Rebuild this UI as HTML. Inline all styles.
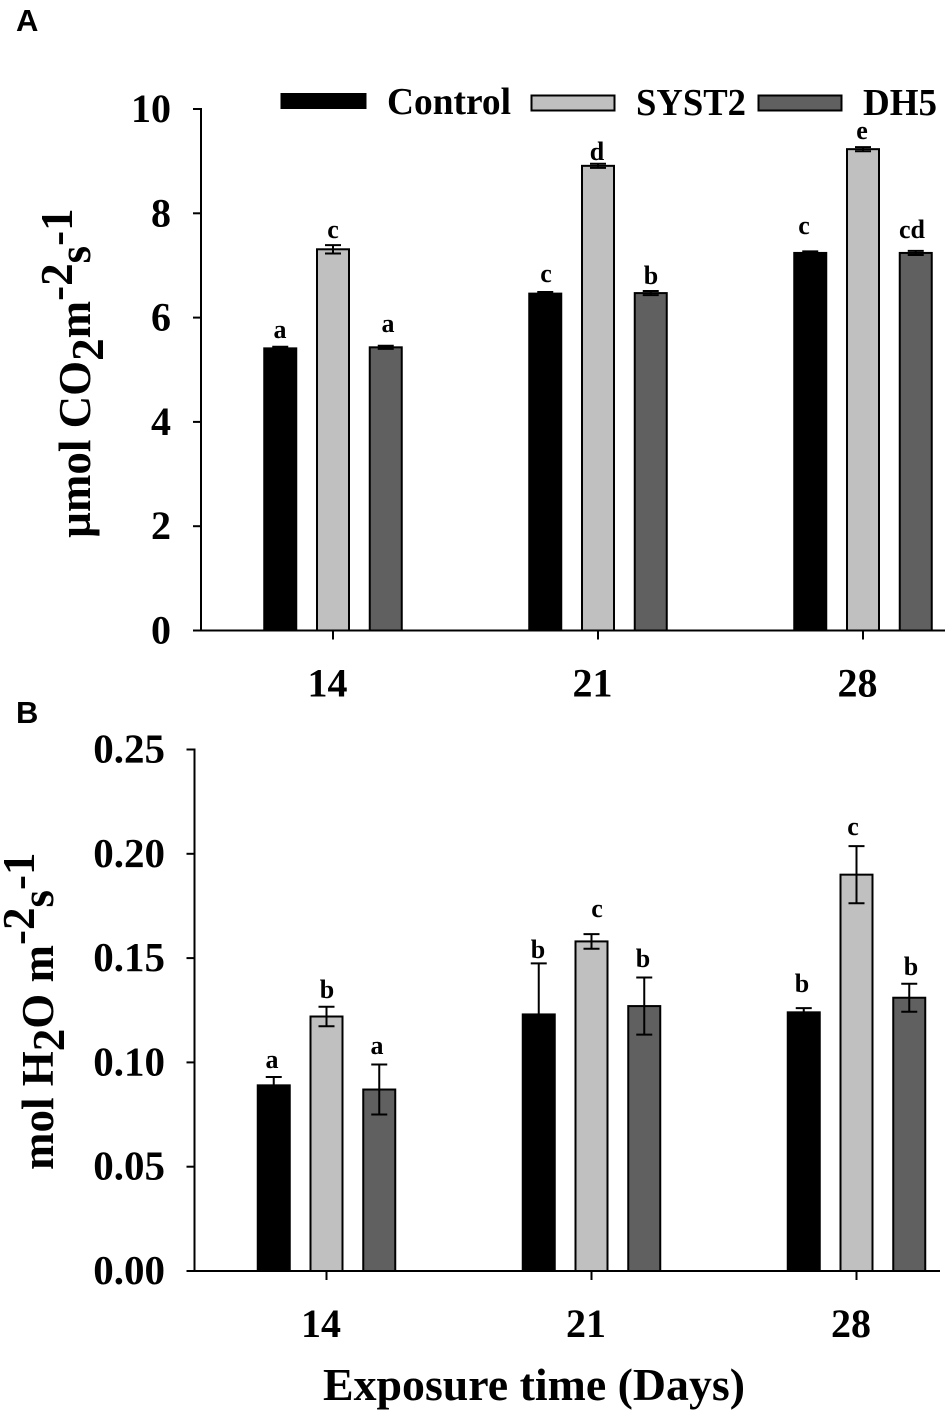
<!DOCTYPE html>
<html>
<head>
<meta charset="utf-8">
<title>Photosynthesis and stomatal conductance bar charts</title>
<style>
html,body{margin:0;padding:0;background:#fff;}
svg{display:block;}
text{font-family:"Liberation Serif",serif;font-weight:bold;fill:#000;}
.panel{font-family:"Liberation Sans",sans-serif;font-size:31px;}
.tick-a{font-size:40px;}
.tick-b{font-size:41px;}
.xt{font-size:40px;}
.leg{font-size:38px;}
.ltr{font-size:26px;text-anchor:middle;}
.ttl{font-size:45px;}
</style>
</head>
<body>
<svg id="fig" xmlns="http://www.w3.org/2000/svg" width="950" height="1413" viewBox="0 0 950 1413">
  <rect x="0" y="0" width="950" height="1413" fill="#fff"/>
  <text class="panel" x="16" y="31">A</text>
  <text class="panel" x="16" y="723">B</text>

  <g id="chartA"></g>
  <g id="chartB"></g>

  <g>
    <rect x="281" y="93.500" width="85" height="15" fill="#000" stroke="#000" stroke-width="1"/>
    <text class="leg" x="387" y="114" textLength="124" lengthAdjust="spacingAndGlyphs">Control</text>
    <rect x="531.500" y="95.500" width="83" height="15" fill="#c0c0c0" stroke="#000" stroke-width="2"/>
    <text class="leg" x="636" y="115" textLength="110" lengthAdjust="spacingAndGlyphs">SYST2</text>
    <rect x="758.500" y="95.500" width="83" height="15" fill="#606060" stroke="#000" stroke-width="2"/>
    <text class="leg" x="863" y="115" textLength="74" lengthAdjust="spacingAndGlyphs">DH5</text>
  </g>

  <text class="ttl" transform="translate(90,538) rotate(-90)">µmol CO<tspan dy="13">2</tspan><tspan dy="-13">m</tspan><tspan dy="-18">-2</tspan><tspan dy="18">s</tspan><tspan dy="-18">-1</tspan></text>
  <text class="ttl" transform="translate(53,1170) rotate(-90)">mol H<tspan dy="11">2</tspan><tspan dy="-11">O m</tspan><tspan dy="-19">-2</tspan><tspan dy="19">s</tspan><tspan dy="-19">-1</tspan></text>
  <text x="323" y="1400" font-size="45" textLength="422" lengthAdjust="spacingAndGlyphs">Exposure time (Days)</text>

  <g>
    <text class="ltr" x="280" y="338">a</text>
    <text class="ltr" x="333" y="238">c</text>
    <text class="ltr" x="388" y="332">a</text>
    <text class="ltr" x="546" y="282">c</text>
    <text class="ltr" x="597" y="160">d</text>
    <text class="ltr" x="651" y="284">b</text>
    <text class="ltr" x="804" y="234">c</text>
    <text class="ltr" x="862" y="139">e</text>
    <text class="ltr" x="912" y="238">cd</text>
  </g>
  <g>
    <text class="ltr" x="272" y="1068">a</text>
    <text class="ltr" x="327" y="998">b</text>
    <text class="ltr" x="377" y="1054">a</text>
    <text class="ltr" x="538" y="958">b</text>
    <text class="ltr" x="597" y="917">c</text>
    <text class="ltr" x="643" y="967">b</text>
    <text class="ltr" x="802" y="992">b</text>
    <text class="ltr" x="853" y="835">c</text>
    <text class="ltr" x="911" y="975">b</text>
  </g>
</svg>

<script>
const categories = ['14', '21', '28'];
const seriesNames = ['control', 'syst2', 'dh5'];

const co2Control = [5.41, 6.46, 7.24];
const co2Syst2 = [7.31, 8.91, 9.23];
const co2Dh5 = [5.43, 6.47, 7.24];
const co2ControlErr = [0.03, 0.03, 0.03];
const co2Syst2Err = [0.08, 0.04, 0.04];
const co2Dh5Err = [0.03, 0.04, 0.04];
const co2Ticks = [0, 2, 4, 6, 8, 10];
const co2TickLabels = ['0', '2', '4', '6', '8', '10'];

const h2oControl = [0.089, 0.123, 0.124];
const h2oSyst2 = [0.122, 0.158, 0.190];
const h2oDh5 = [0.087, 0.127, 0.131];
const h2oControlErr = [0.004, 0.0245, 0.002];
const h2oSyst2Err = [0.0047, 0.0035, 0.0137];
const h2oDh5Err = [0.012, 0.0137, 0.0067];
const h2oTicks = [0, 0.05, 0.10, 0.15, 0.20, 0.25];
const h2oTickLabels = ['0.00', '0.05', '0.10', '0.15', '0.20', '0.25'];

const SVGNS = 'http://www.w3.org/2000/svg';
const fills = {control: '#000000', syst2: '#c0c0c0', dh5: '#606060'};

function mk(parent, tag, attrs) {
  const el = document.createElementNS(SVGNS, tag);
  for (const k in attrs) el.setAttribute(k, attrs[k]);
  parent.appendChild(el);
  return el;
}

function drawChart(cfg) {
  const root = document.getElementById(cfg.id);
  const yScale = v => cfg.y0 - (v / cfg.yMax) * (cfg.y0 - cfg.yTop);
  const xCenter = i => cfg.x0 + i * 265;
  const seriesOffset = s => (s - 1) * 52.75;
  const barW = 32;

  cfg.values.forEach((vals, s) => {
    vals.forEach((v, i) => {
      const cx = xCenter(i) + seriesOffset(s);
      const bar = mk(root, 'rect', {
        x: cx - barW / 2, y: yScale(v), width: barW, height: cfg.y0 - yScale(v),
        fill: fills[seriesNames[s]], stroke: '#000', 'stroke-width': 2
      });
      
      

      const e = cfg.errors[s][i];
      const hi = yScale(v + e), lo = yScale(s === 0 ? v : v - e);
      const eg = mk(root, 'path', {
        d: 'M' + (cx - 8) + ' ' + hi + 'H' + (cx + 8) + 'M' + cx + ' ' + hi + 'V' + lo +
           (s === 0 ? '' : 'M' + (cx - 8) + ' ' + lo + 'H' + (cx + 8)),
        fill: 'none', stroke: '#000', 'stroke-width': 2
      });
      
      
    });
  });

  const yAxis = mk(root, 'line', {x1: cfg.axisX, x2: cfg.axisX, y1: yScale(cfg.yMax) - 1, y2: cfg.y0, stroke: '#000', 'stroke-width': 2});
  
  
  const xAxis = mk(root, 'line', {x1: cfg.axisX - 8, x2: cfg.xEnd, y1: cfg.y0, y2: cfg.y0, stroke: '#000', 'stroke-width': 2});
  
  

  cfg.ticks.forEach((t, i) => {
    const y = yScale(t);
    const tk = mk(root, 'line', {x1: cfg.axisX - 8, x2: cfg.axisX, y1: y, y2: y, stroke: '#000', 'stroke-width': 2});
    
    
    const lb = mk(root, 'text', {x: cfg.labelRight, y: y + 13, 'text-anchor': 'end', class: cfg.tickClass});
    lb.textContent = cfg.tickLabels[i];
    
    
  });

  categories.forEach((c, i) => {
    const x = xCenter(i);
    const tk = mk(root, 'line', {x1: x, x2: x, y1: cfg.y0, y2: cfg.y0 + 9, stroke: '#000', 'stroke-width': 2});
    
    
    const lb = mk(root, 'text', {x: x - 5.5, y: cfg.y0 + 66, 'text-anchor': 'middle', class: 'xt'});
    lb.textContent = c;
    
    
  });
}

drawChart({
  id: 'chartA', key: 'a', y0: 630.5, yTop: 109, yMax: 10, axisX: 201, xEnd: 945, x0: 333,
  labelRight: 171, tickClass: 'tick-a', values: [co2Control, co2Syst2, co2Dh5],
  errors: [co2ControlErr, co2Syst2Err, co2Dh5Err], ticks: co2Ticks, tickLabels: co2TickLabels
});
drawChart({
  id: 'chartB', key: 'b', y0: 1271, yTop: 749.5, yMax: 0.25, axisX: 194.500, xEnd: 940, x0: 326.5,
  labelRight: 165, tickClass: 'tick-b', values: [h2oControl, h2oSyst2, h2oDh5],
  errors: [h2oControlErr, h2oSyst2Err, h2oDh5Err], ticks: h2oTicks, tickLabels: h2oTickLabels
});
</script>
</body>
</html>
